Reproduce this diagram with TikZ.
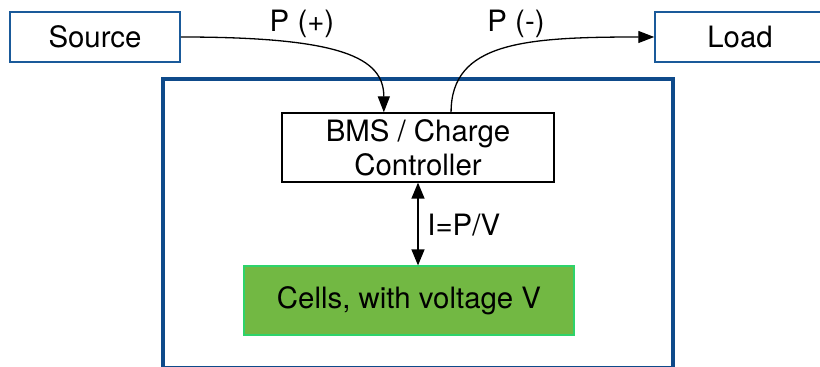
\documentclass[tikz,border=0pt]{standalone}
\usepackage{fontspec}
\setmainfont{TeX Gyre Heros}
\usetikzlibrary{arrows.meta,calc}
\definecolor{boxblue}{HTML}{1A5A9A}
\definecolor{packblue}{HTML}{0E4A8A}
\definecolor{cellgreen}{HTML}{72B843}
\definecolor{celledge}{HTML}{2ED36B}
\tikzset{
  lbl/.style={font=\fontsize{14.7}{17}\selectfont, inner sep=0pt},
  endbox/.style={draw=boxblue, line width=0.75pt, minimum width=85pt, minimum height=25pt, inner sep=0pt, font=\fontsize{14.7}{17}\selectfont},
  bmsbox/.style={draw=black, line width=0.65pt, minimum width=136pt, minimum height=34.5pt, inner sep=0pt, align=center, font=\fontsize{14.7}{17}\selectfont},
  cellbox/.style={draw=celledge, fill=cellgreen, line width=0.6pt, minimum width=165pt, minimum height=34.5pt, inner sep=0pt, font=\fontsize{14.7}{17}\selectfont},
  packbox/.style={draw=packblue, line width=1.75pt, minimum width=255pt, minimum height=144.5pt, inner sep=0pt},
  flow/.style={line width=0.65pt, -{Triangle[length=8pt,width=6pt]}},
  bothflow/.style={line width=0.65pt, {Triangle[length=8pt,width=6.5pt]}-{Triangle[length=8pt,width=6.5pt]}}
}
\begin{document}
\begin{tikzpicture}[x=0.5pt,y=-0.5pt]
\useasboundingbox (0,0) rectangle (820,367);
\node[packbox] (pack) at (418,223.5) {};
\node[endbox] (src) at (95,37) {Source};
\node[endbox] (load) at (740,37) {Load};
\node[bmsbox] (bms) at (418,147.5) {BMS / Charge\\Controller};
\node[cellbox] (cells) at (409,300.5) {Cells, with voltage V};
\coordinate (bmsin) at ($(bms.north west)!0.375!(bms.north east)$);
\coordinate (bmsout) at ($(bms.north west)!0.621!(bms.north east)$);
\draw[flow] (src.east) .. controls +(160,0) and +(0,-55) .. (bmsin);
\draw[flow] (bmsout) .. controls +(0,-70) and +(-130,0) .. (load.west);
\draw[bothflow] (bms.south) -- (bms.south |- cells.north);
\node[lbl] (pplus) at (302,24) {P (+)};
\node[lbl] (pminus) at (516,24) {P (-)};
\node[lbl, anchor=west] (ipv) at (427,225) {I=P/V};
\end{tikzpicture}
\end{document}
